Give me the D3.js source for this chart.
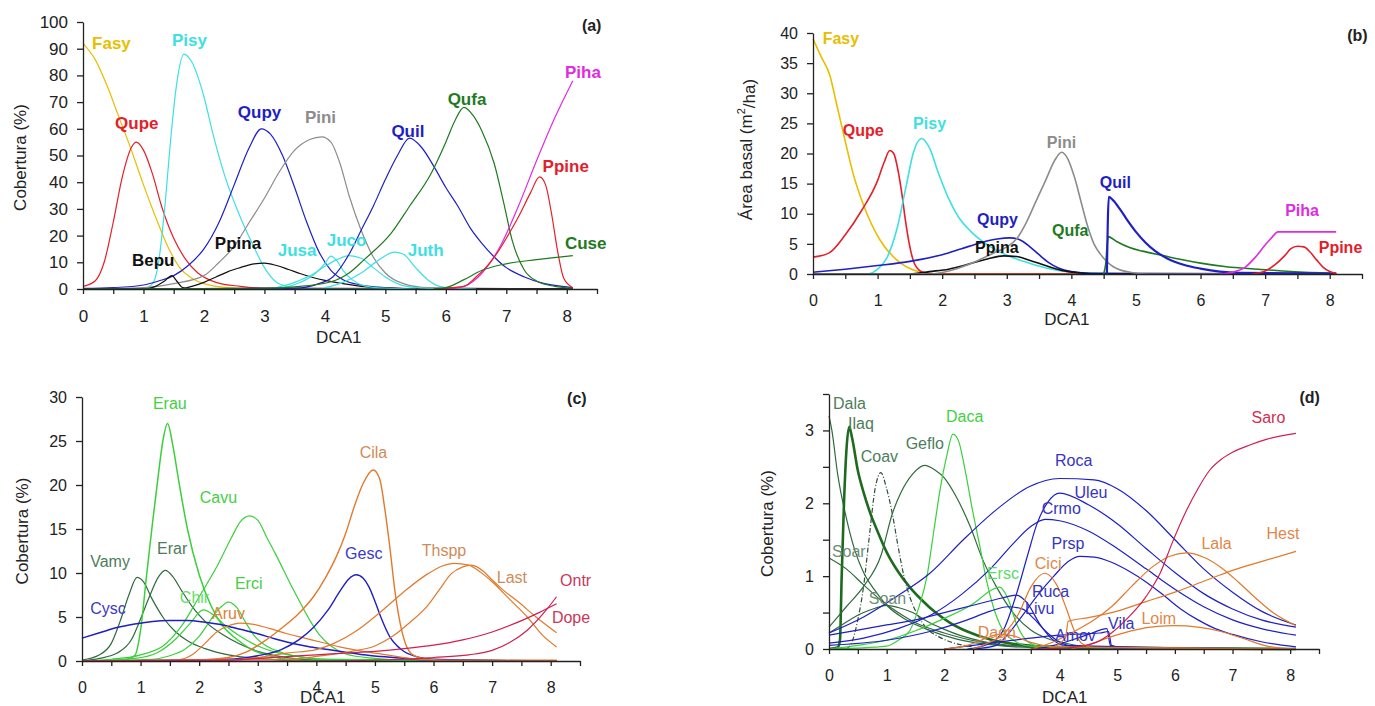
<!DOCTYPE html>
<html lang="en">
<head>
<meta charset="UTF-8">
<title>DCA1 response curves</title>
<script src="https://d3js.org/d3.v7.min.js"></script>
<style>
    body { margin: 0; background: #fff; }
    svg { display: block; font-family: "Liberation Sans", Arial, sans-serif; }
    .axis path, .axis line { stroke: #222; stroke-width: 1.3px; }
    .axis text { fill: #222; }
    .curve { fill: none; }
</style>
</head>
<body>
<div id="chart"></div>
<script>
// ---------- panel (a): cobertura of tree species ----------
var a_fasy  = [[0,92],[0.2,86],[0.4,76],[0.6,64],[0.8,52],[1.0,39],[1.2,27],[1.4,16],[1.6,8],[1.8,4],[2.0,2],[2.4,0.5],[3,0],[8.1,0]];
var a_qupe  = [[0,1],[0.2,3],[0.35,10],[0.5,25],[0.65,42],[0.8,53],[0.88,55],[1.0,52],[1.15,43],[1.3,31],[1.5,19],[1.7,11],[1.9,6],[2.2,2.5],[2.6,1],[3,0.3],[8.1,0]];
var a_pisy  = [[0,0],[1.0,0],[1.15,2],[1.25,10],[1.35,30],[1.45,56],[1.55,77],[1.67,88],[1.8,85],[2.0,72],[2.15,58],[2.35,42],[2.6,27],[2.8,17],[3.0,8],[3.2,2.5],[3.4,0.8],[3.6,0.2],[8.1,0]];
var a_qupy  = [[0,0.2],[0.5,0.5],[1,1.5],[1.25,3],[1.5,5],[1.75,9],[2.0,15],[2.25,25],[2.5,39],[2.75,53],[2.95,60],[3.1,58],[3.3,50],[3.5,38],[3.7,25],[3.9,14],[4.1,7],[4.3,3.5],[4.6,1.5],[5,0.5],[5.5,0.1],[8.1,0]];
var a_pini  = [[0,0],[1,0.5],[1.5,2],[2,5],[2.25,10],[2.5,16],[2.75,25],[3,34],[3.25,44],[3.5,52],[3.75,56],[3.95,57],[4.1,55],[4.25,47],[4.4,35],[4.6,22],[4.8,12],[5.0,6],[5.3,2],[5.7,0.5],[8.1,0]];
var a_bepu  = [[0,0],[1.0,0],[1.2,1],[1.35,3],[1.47,5],[1.55,3],[1.65,0.5],[1.8,0],[8.1,0]];
var a_ppina = [[0,0],[1.6,0],[1.8,1],[2.0,2.5],[2.2,4.5],[2.4,6.5],[2.6,8],[2.8,9.3],[3.0,9.7],[3.2,8.8],[3.4,7.3],[3.6,5.7],[3.8,4.3],[4.0,3.2],[4.3,2],[4.6,1],[5,0.4],[5.5,0],[8.1,0]];
var a_jusa  = [[3.0,0],[3.3,0.5],[3.6,2.5],[3.85,6],[4.0,9.5],[4.1,12.3],[4.2,10.5],[4.3,7],[4.45,3.5],[4.65,1.2],[5.0,0.3],[5.5,0]];
var a_juco  = [[3.2,0.5],[3.5,2.5],[3.8,5.5],[4.0,8.5],[4.2,11],[4.4,12.5],[4.6,11.5],[4.8,8],[5.0,4.5],[5.2,2],[5.5,0.5],[6,0]];
var a_juth  = [[4.0,0.5],[4.3,2.5],[4.6,6],[4.9,11],[5.15,13.8],[5.3,13],[5.5,8],[5.7,3.5],[5.9,1],[6.2,0.2],[6.5,0]];
var a_quil  = [[0,0],[3.5,0.3],[3.9,2],[4.13,4.5],[4.4,13],[4.6,22],[4.8,31],[5.0,41],[5.2,50],[5.4,56.5],[5.6,53],[5.8,46],[6.0,38],[6.2,31],[6.4,23],[6.6,17],[6.8,12],[7.0,8],[7.3,4.5],[7.6,2.2],[8.0,0.8],[8.1,0.5]];
var a_qufa  = [[0,0],[3,0.3],[3.5,0.8],[4.1,2.7],[4.4,6],[4.65,11],[5.1,21],[5.4,31],[5.75,43],[6.0,55],[6.15,63],[6.3,68],[6.45,65],[6.6,59],[6.8,47],[6.95,33],[7.1,18],[7.3,7],[7.5,3],[7.8,1],[8.1,0.3]];
var a_piha  = [[6.0,0],[6.3,1],[6.6,6],[6.9,16],[7.2,31],[7.5,48],[7.8,64],[8.1,78]];
var a_ppine = [[5.8,0],[6.1,0.5],[6.3,1],[6.5,4.5],[6.7,9],[6.85,13.5],[7.0,19],[7.2,27],[7.4,36],[7.55,42],[7.65,39],[7.75,28],[7.85,14],[7.95,4],[8.1,0.5]];
var a_cuse  = [[5.8,0],[6.0,0.5],[6.3,3.5],[6.6,7],[6.9,9],[7.5,11],[8.1,12.5]];

// ---------- panel (b): area basal ----------
var b_fasy  = [[0,39],[0.13,36],[0.26,33],[0.37,28],[0.5,22],[0.62,16.7],[0.78,11.5],[1.04,5.6],[1.3,2.3],[1.6,0.5],[1.9,0],[8.1,0]];
var b_qupe  = [[0,2.8],[0.25,3.5],[0.5,6.5],[0.75,10.5],[1.0,15.5],[1.1,18.5],[1.19,20.5],[1.25,20],[1.32,17],[1.38,13],[1.43,9],[1.5,4.5],[1.58,1.5],[1.7,0.3],[1.9,0],[8.1,0]];
var b_pisy  = [[0,0],[0.85,0],[1.0,0.8],[1.15,2.8],[1.3,7.5],[1.45,15],[1.55,20],[1.68,22.5],[1.8,21],[1.95,16.5],[2.1,12.5],[2.25,9.5],[2.45,7],[2.75,4.5],[3.05,2.9],[3.35,1.8],[3.7,0.8],[4.0,0.3],[5.0,0],[8.1,0]];
var b_qupy  = [[0,0.3],[0.5,0.8],[1.0,1.4],[1.5,2.1],[2.0,3.2],[2.3,4.2],[2.6,5.2],[2.85,5.8],[3.05,6],[3.2,5.7],[3.35,4.6],[3.5,3.2],[3.65,1.9],[3.8,1],[4.0,0.4],[4.3,0.1],[8.1,0]];
var b_ppina = [[0,0],[1.5,0],[1.8,0.4],[2.1,0.8],[2.4,1.6],[2.7,2.5],[2.95,3],[3.15,2.9],[3.35,2.3],[3.6,1.4],[3.85,0.6],[4.1,0.2],[4.4,0],[8.1,0]];
var b_pini  = [[0,0],[1.8,0],[2.2,0.8],[2.5,2],[2.8,3.5],[3.0,4.5],[3.15,5.8],[3.3,8.5],[3.45,12],[3.6,15.5],[3.75,19],[3.85,20.2],[3.95,19],[4.05,16],[4.15,12],[4.25,8],[4.35,5],[4.45,3.3],[4.65,1.2],[4.95,0.2],[5.2,0],[8.1,0]];
var b_qufa  = [[4.5,0],[4.53,1.5],[4.57,6.2],[4.7,5.4],[4.9,4.4],[5.1,3.8],[5.4,3.1],[5.7,2.4],[6.0,1.8],[6.4,1.2],[6.9,0.8],[7.4,0.4],[8.1,0.1]];
var b_quil  = [[4.55,0],[4.58,12.8],[4.65,12.2],[4.75,10.8],[4.85,9.2],[5.0,7],[5.15,5.2],[5.3,3.8],[5.5,2.5],[5.75,1.5],[6.0,0.9],[6.3,0.4],[6.6,0.2],[8.1,0.05]];
var b_piha  = [[6.3,0],[6.5,0.3],[6.7,1.2],[6.85,2.8],[7.0,4.8],[7.1,6],[7.2,7],[8.1,7]];
var b_ppine = [[6.8,0],[7.0,0.5],[7.15,1.5],[7.3,3],[7.4,4.2],[7.5,4.6],[7.6,4.5],[7.7,3.6],[7.8,2.3],[7.9,1.1],[8.0,0.4],[8.1,0.1]];

// ---------- panel (c): cobertura of shrubs ----------
var c_vamy  = [[0,0.1],[0.3,0.7],[0.5,2],[0.65,4.5],[0.8,7.5],[0.94,9.5],[1.05,9],[1.2,7],[1.4,4.8],[1.6,3.3],[1.8,2.3],[2.1,1.4],[2.5,0.7],[3,0.3],[3.5,0.1],[8.1,0]];
var c_erar  = [[0,0],[0.3,0.3],[0.6,0.9],[0.85,2.5],[1.0,4.8],[1.15,7.3],[1.3,9.5],[1.42,10.3],[1.55,9.6],[1.7,8],[1.9,6],[2.1,4.5],[2.4,3],[2.7,1.9],[3.0,1.1],[3.4,0.5],[4,0.1],[8.1,0]];
var c_erau  = [[0,0],[0.7,0.1],[0.9,0.6],[1.0,3.5],[1.1,9.6],[1.2,15.5],[1.3,21],[1.38,25],[1.46,27],[1.55,24.5],[1.65,20.5],[1.8,15],[2.0,9.8],[2.2,6.3],[2.4,4],[2.6,2.7],[2.9,1.3],[3.2,0.6],[3.5,0.2],[4,0],[8.1,0]];
var c_cavu  = [[0,0],[0.5,0.2],[1.0,0.7],[1.4,1.8],[1.7,4],[2.0,7.3],[2.3,10.7],[2.55,14],[2.7,15.8],[2.86,16.5],[3.0,16],[3.15,14.1],[3.3,12.2],[3.45,10.2],[3.6,8.2],[3.75,6.3],[3.9,4.5],[4.05,3],[4.25,1.7],[4.5,0.8],[5,0.3],[5.5,0.1],[8.1,0]];
var c_erci  = [[0,0],[1.2,0.2],[1.5,0.6],[1.75,1.3],[2.0,2.8],[2.2,4.7],[2.35,6],[2.5,6.7],[2.65,6],[2.8,4.3],[2.95,2.8],[3.15,1.7],[3.4,1],[3.7,0.5],[4.1,0.2],[8.1,0]];
var c_chir  = [[0,0],[0.9,0.3],[1.3,1],[1.6,2.5],[1.85,4.3],[2.07,5.8],[2.25,5.2],[2.45,4],[2.7,2.8],[3.0,1.7],[3.3,1],[3.7,0.5],[4.2,0.2],[8.1,0]];
var c_cysc  = [[0,2.6],[0.3,3.2],[0.6,3.8],[0.9,4.2],[1.2,4.5],[1.5,4.6],[1.8,4.6],[2.1,4.4],[2.4,4.1],[2.7,3.6],[3.0,3.1],[3.3,2.5],[3.6,2],[3.9,1.6],[4.2,1.3],[4.5,1],[4.8,0.7],[5.1,0.5],[5.5,0.3],[6,0.1],[8.1,0]];
var c_aruv  = [[0,0],[1.6,0.1],[1.9,0.8],[2.1,2],[2.3,3.3],[2.5,4],[2.7,4.3],[2.9,4.2],[3.2,3.7],[3.5,3.1],[3.8,2.6],[4.1,2.1],[4.4,1.6],[4.8,1.1],[5.2,0.7],[5.6,0.3],[6,0.1],[8.1,0]];
var c_gesc  = [[0,0],[2.5,0.2],[3.0,0.6],[3.4,1.3],[3.7,2.4],[3.95,3.8],[4.2,5.8],[4.4,7.9],[4.55,9.3],[4.68,9.8],[4.8,9.4],[4.9,8.4],[5.0,6.8],[5.1,5],[5.25,2.8],[5.45,1.3],[5.7,0.5],[6,0.2],[8.1,0]];
var c_cila  = [[0,0],[2.0,0.1],[2.5,0.4],[2.8,1],[3.1,2.2],[3.4,3.7],[3.7,5.4],[3.95,7.3],[4.15,9.4],[4.35,12],[4.5,14.5],[4.65,17.6],[4.8,20.2],[4.97,21.7],[5.08,20.7],[5.17,17.2],[5.26,12.6],[5.34,8],[5.43,4.3],[5.52,2],[5.65,0.7],[5.9,0.2],[6.2,0.1],[8.1,0.1]];
var c_thspp = [[0,0],[2.5,0.1],[3.0,0.4],[3.5,0.9],[4.0,1.3],[4.3,2],[4.7,3.5],[5.1,5.6],[5.5,7.9],[5.9,9.9],[6.15,10.8],[6.35,11.1],[6.6,10.9],[6.8,10.1],[7.0,9],[7.3,7],[7.6,5],[7.85,3],[8.1,1.6]];
var c_last  = [[0,0],[3.5,0.2],[4.2,0.7],[4.6,1.1],[5.0,1.7],[5.3,2.8],[5.6,4.4],[5.9,6.3],[6.1,8.1],[6.3,9.9],[6.5,10.7],[6.65,10.9],[6.85,10.2],[7.0,9.2],[7.2,8],[7.45,6.7],[7.75,5],[8.1,3.2]];
var c_dope  = [[0,0],[2.5,0.1],[3.0,0.3],[3.5,0.5],[4.0,0.7],[4.5,0.9],[5.0,1.1],[5.5,1.4],[6.0,1.8],[6.5,2.4],[7.0,3.3],[7.4,4.3],[7.8,5.5],[8.1,6.5]];
var c_ontr  = [[0,0],[4,0],[5.5,0.2],[6.0,0.4],[6.6,0.7],[7.0,1.2],[7.3,2.1],[7.6,3.5],[7.9,5.6],[8.1,7.3]];

// ---------- panel (d): cobertura of herbs ----------
var d_dala  = [[0,3.2],[0.05,3.0],[0.15,2.4],[0.3,1.8],[0.45,1.35],[0.6,1.05],[0.8,0.8],[1.0,0.6],[1.3,0.42],[1.7,0.27],[2.2,0.14],[2.8,0.06],[3.5,0.02],[8.1,0]];
var d_ilaq  = [[0,0],[0.15,0.02],[0.19,0.12],[0.22,1],[0.26,2],[0.3,2.7],[0.35,3.05],[0.4,2.9],[0.5,2.45],[0.6,2.15],[0.7,1.9],[0.85,1.6],[1.0,1.33],[1.2,1.06],[1.4,0.85],[1.6,0.68],[1.85,0.5],[2.1,0.36],[2.4,0.24],[2.8,0.13],[3.3,0.06],[4,0.02],[8.1,0]];
var d_coav  = [[0.3,0],[0.4,0.1],[0.5,0.4],[0.6,0.86],[0.7,1.55],[0.8,2.2],[0.9,2.42],[1.0,2.2],[1.1,1.85],[1.2,1.4],[1.3,1.0],[1.4,0.72],[1.55,0.45],[1.7,0.28],[1.9,0.17],[2.1,0.1],[2.5,0.03]];
var d_geflo = [[0,0.3],[0.3,0.58],[0.6,0.86],[0.9,1.28],[1.1,1.86],[1.25,2.15],[1.45,2.4],[1.66,2.52],[1.85,2.45],[2.0,2.35],[2.2,2.1],[2.45,1.68],[2.67,1.22],[2.9,0.86],[3.2,0.49],[3.5,0.26],[3.8,0.14],[4.1,0.08],[4.5,0.03],[8.1,0]];
var d_soar  = [[0,1.25],[0.3,1.1],[0.6,0.88],[0.9,0.67],[1.2,0.5],[1.5,0.36],[2.0,0.22],[2.6,0.1],[3.2,0.04],[8.1,0]];
var d_soan  = [[0,0.22],[0.2,0.32],[0.4,0.42],[0.6,0.5],[0.8,0.56],[1.0,0.6],[1.2,0.57],[1.45,0.5],[1.7,0.38],[2.0,0.27],[2.3,0.18],[2.7,0.1],[3.2,0.05],[8.1,0]];
var d_daca  = [[0,0],[1.0,0.04],[1.2,0.12],[1.4,0.25],[1.55,0.55],[1.7,1.0],[1.82,1.63],[1.93,2.2],[2.04,2.64],[2.15,2.95],[2.25,2.85],[2.35,2.5],[2.5,1.86],[2.62,1.4],[2.73,0.95],[2.85,0.58],[3.0,0.28],[3.2,0.12],[3.5,0.04],[8.1,0]];
var d_ersc  = [[0,0],[0.5,0.05],[1.0,0.12],[1.5,0.25],[2.0,0.42],[2.5,0.62],[2.8,0.8],[2.96,0.85],[3.1,0.7],[3.25,0.35],[3.45,0.1],[3.7,0.03],[8.1,0]];
var d_roca  = [[0,0.22],[0.6,0.44],[1.17,0.72],[1.75,1.04],[2.33,1.5],[2.9,1.91],[3.48,2.23],[4.0,2.34],[4.6,2.32],[5.0,2.2],[5.5,1.9],[6.0,1.5],[6.5,1.1],[7.0,0.78],[7.5,0.52],[8.1,0.33]];
var d_uleu  = [[2.4,0],[2.8,0.08],[3.05,0.3],[3.25,0.75],[3.45,1.3],[3.6,1.7],[3.8,2.02],[4.0,2.14],[4.5,1.98],[5.0,1.72],[5.5,1.38],[6.0,1.05],[6.5,0.76],[7.0,0.55],[7.5,0.4],[8.1,0.3]];
var d_crmo  = [[0,0.08],[0.6,0.15],[1.2,0.28],[1.8,0.48],[2.3,0.75],[2.8,1.1],[3.2,1.45],[3.5,1.68],[3.75,1.78],[4.0,1.76],[4.5,1.62],[5.0,1.38],[5.5,1.1],[6.0,0.82],[6.5,0.58],[7.0,0.4],[7.5,0.28],[8.1,0.19]];
var d_prsp  = [[2.5,0],[2.9,0.05],[3.1,0.2],[3.3,0.4],[3.6,0.72],[3.9,1.0],[4.15,1.2],[4.35,1.27],[4.6,1.26],[4.9,1.19],[5.2,1.07],[5.5,0.92],[5.8,0.74],[6.1,0.55],[6.4,0.4],[6.7,0.28],[7.0,0.2],[7.5,0.1],[8.1,0.03]];
var d_ruca  = [[0,0.19],[0.5,0.26],[1.0,0.33],[1.5,0.4],[2.0,0.5],[2.5,0.6],[3.0,0.7],[3.25,0.74],[3.45,0.62],[3.65,0.35],[3.85,0.15],[4.1,0.05],[8.1,0]];
var d_livu  = [[0,0.05],[1.0,0.12],[1.8,0.25],[2.4,0.4],[2.8,0.52],[3.1,0.58],[3.35,0.55],[3.55,0.42],[3.75,0.25],[3.95,0.12],[4.3,0.03],[8.1,0]];
var d_amov  = [[2.0,0],[2.5,0.05],[3.0,0.1],[3.5,0.15],[4.0,0.19],[4.5,0.21],[4.7,0.22],[4.85,0.24],[4.9,0.05],[5.2,0],[8.1,0]];
var d_vila  = [[3.6,0],[3.9,0.05],[4.2,0.12],[4.5,0.2],[4.7,0.26],[4.82,0.28],[4.88,0.05],[5.0,0],[8.1,0]];
var d_cici  = [[2.5,0],[2.75,0.08],[3.05,0.22],[3.3,0.5],[3.5,0.85],[3.74,1.04],[3.95,0.88],[4.12,0.55],[4.25,0.26],[4.38,0.08],[4.6,0.02],[8.1,0]];
var d_dagn  = [[2.0,0],[2.4,0.05],[2.7,0.14],[2.95,0.2],[3.2,0.18],[3.5,0.09],[3.9,0.03],[8.1,0]];
var d_lala  = [[3.5,0],[3.9,0.1],[4.3,0.26],[4.6,0.4],[4.9,0.58],[5.25,0.86],[5.6,1.12],[5.9,1.27],[6.2,1.32],[6.5,1.26],[6.8,1.12],[7.1,0.92],[7.4,0.7],[7.7,0.5],[8.1,0.32]];
var d_hest  = [[3.8,0],[4.1,0.15],[4.15,0.38],[4.5,0.43],[5.0,0.52],[5.5,0.65],[6.0,0.78],[6.5,0.93],[7.0,1.08],[7.5,1.2],[8.1,1.34]];
var d_loim  = [[4.2,0],[4.5,0.06],[4.9,0.17],[5.3,0.26],[5.7,0.31],[6.0,0.32],[6.4,0.3],[6.8,0.24],[7.2,0.14],[7.6,0.04],[8.1,0]];
var d_saro  = [[3.5,0],[4.2,0.02],[4.6,0.08],[4.9,0.22],[5.15,0.4],[5.5,0.72],[5.75,1.05],[5.95,1.45],[6.2,1.9],[6.4,2.2],[6.6,2.45],[6.8,2.6],[7.0,2.7],[7.3,2.8],[7.6,2.88],[8.1,2.96]];

// colours
var GOLD = "#E8BE00", RED = "#E3202A", CYAN = "#3EE0E2", BLUE = "#1F1FC4", GREY = "#8C8C8C",
    DKGREEN = "#1F7A1F", MAGENTA = "#E02BE0", BLACK = "#111111",
    LTGREEN = "#3CCF3C", SHGREEN = "#2F6B3F", ORANGE = "#E07A2C", CRIMSON = "#CF2050";

var panels = [
    {
        left: 83, right: 597, top: 22, bottom: 289, ymax: 100,
        yticks: d3.range(0, 101, 10), yfmt: function(d) { return d; },
        fontSize: 17, lw: 1.2, bold: true, titleAt: 4.23, titleDy: 54,
        ytitle: "Cobertura (%)", ytitleX: 20,
        letter: ["(a)", 8.25, 96.6],
        series: [
            [a_fasy, GOLD], [a_qupe, RED], [a_pisy, CYAN], [a_qupy, BLUE], [a_pini, GREY],
            [a_bepu, BLACK], [a_ppina, BLACK], [a_jusa, CYAN], [a_juco, CYAN], [a_juth, CYAN],
            [a_quil, BLUE], [a_qufa, DKGREEN], [a_piha, MAGENTA], [a_ppine, RED], [a_cuse, DKGREEN]
        ],
        labels: [
            ["Fasy", 0.15, 90, GOLD], ["Pisy", 1.47, 91, CYAN], ["Qupe", 0.53, 60, RED],
            ["Qupy", 2.56, 64, BLUE], ["Pini", 3.67, 62, GREY], ["Quil", 5.1, 57, BLUE],
            ["Qufa", 6.03, 69, DKGREEN], ["Piha", 7.97, 79, MAGENTA], ["Ppine", 7.6, 44, RED],
            ["Cuse", 7.97, 15, DKGREEN], ["Bepu", 0.81, 8.6, BLACK], ["Ppina", 2.18, 15, BLACK],
            ["Jusa", 3.22, 12.4, CYAN], ["Juco", 4.03, 16, CYAN], ["Juth", 5.37, 12.4, CYAN]
        ]
    },
    {
        left: 813, right: 1362, top: 33, bottom: 274, ymax: 40,
        yticks: d3.range(0, 41, 5), yfmt: function(d) { return d; },
        fontSize: 16, lw: 1.6, bold: true, titleAt: 3.93, titleDy: 51,
        ytitle: "basal", ytitleX: 746,
        letter: ["(b)", 8.27, 38.7],
        series: [
            [b_fasy, GOLD], [b_qupe, RED], [b_pisy, CYAN], [b_qupy, BLUE], [b_ppina, BLACK],
            [b_pini, GREY], [b_qufa, DKGREEN], [b_quil, BLUE, 2.2], [b_piha, MAGENTA], [b_ppine, RED]
        ],
        labels: [
            ["Fasy", 0.15, 38.2, GOLD], ["Qupe", 0.46, 22.9, RED], ["Pisy", 1.55, 24.1, CYAN],
            ["Pini", 3.62, 20.9, GREY], ["Qupy", 2.54, 8.1, BLUE], ["Ppina", 2.51, 3.5, BLACK],
            ["Qufa", 3.7, 6.3, DKGREEN], ["Quil", 4.44, 14.3, BLUE], ["Piha", 7.31, 9.6, MAGENTA],
            ["Ppine", 7.83, 3.5, RED]
        ]
    },
    {
        left: 82, right: 580, top: 397, bottom: 661, ymax: 30,
        yticks: d3.range(0, 31, 5), yfmt: function(d) { return d; },
        fontSize: 16, lw: 1.2, bold: false, titleAt: 4.11, titleDy: 42,
        ytitle: "Cobertura (%)", ytitleX: 22,
        letter: ["(c)", 8.28, 29.2],
        series: [
            [c_vamy, SHGREEN], [c_erar, SHGREEN], [c_erau, LTGREEN, 1.5], [c_cavu, LTGREEN], [c_erci, LTGREEN],
            [c_chir, LTGREEN], [c_cysc, BLUE, 1.5], [c_aruv, ORANGE], [c_gesc, BLUE, 1.4], [c_cila, ORANGE, 1.4],
            [c_thspp, ORANGE], [c_last, ORANGE], [c_dope, CRIMSON], [c_ontr, CRIMSON]
        ],
        labels: [
            ["Erau", 1.21, 28.6, "#44D044"], ["Cavu", 2.01, 18, "#44D044"], ["Vamy", 0.14, 10.7, "#4D7D5A"],
            ["Erar", 1.28, 12.2, "#4D7D5A"], ["Erci", 2.61, 8.2, "#44D044"], ["Chir", 1.67, 6.6, "#66DD66"],
            ["Aruv", 2.22, 4.8, "#E0803A"], ["Cysc", 0.14, 5.3, "#3A3AC8"], ["Cila", 4.74, 23.1, "#D08A5A"],
            ["Gesc", 4.49, 11.6, "#3A3AC8"], ["Thspp", 5.8, 11.9, "#D08A5A"], ["Last", 7.08, 8.9, "#D08A5A"],
            ["Ontr", 8.16, 8.5, "#C8385A"], ["Dope", 8.02, 4.3, "#C8385A"]
        ]
    },
    {
        left: 829, right: 1319, top: 394, bottom: 649, ymax: 3.5,
        yticks: d3.range(0, 3.51, 0.5), yfmt: function(d) { return d % 1 === 0 ? d : ""; },
        fontSize: 16, lw: 1.2, bold: false, titleAt: 4.09, titleDy: 54,
        ytitle: "Cobertura (%)", ytitleX: 767,
        letter: ["(d)", 8.16, 3.37],
        series: [
            [d_dala, SHGREEN], [d_ilaq, "#1E6A1E", 2.6], [d_coav, "#2E4F3A", 1.2, "5,2,1,2"], [d_geflo, SHGREEN],
            [d_soar, SHGREEN], [d_soan, SHGREEN], [d_daca, LTGREEN], [d_ersc, LTGREEN],
            [d_roca, BLUE], [d_uleu, BLUE], [d_crmo, BLUE], [d_prsp, BLUE], [d_ruca, BLUE], [d_livu, BLUE],
            [d_amov, BLUE], [d_vila, BLUE], [d_cici, ORANGE], [d_dagn, ORANGE], [d_lala, ORANGE],
            [d_hest, ORANGE], [d_loim, ORANGE], [d_saro, CRIMSON]
        ],
        labels: [
            ["Dala", 0.07, 3.3, "#4D7D5A"], ["Ilaq", 0.33, 3.02, "#4D7D5A"], ["Coav", 0.55, 2.57, "#4D7D5A"],
            ["Geflo", 1.33, 2.75, "#4D7D5A"], ["Daca", 2.03, 3.12, "#44D044"], ["Soar", 0.05, 1.26, "#6D8D77"],
            ["Soan", 0.69, 0.62, "#6D8D77"], ["Ersc", 2.74, 0.96, "#5ADA6A"], ["Cici", 3.57, 1.1, "#E0884A"],
            ["Ruca", 3.52, 0.71, "#3535C0"], ["Livu", 3.4, 0.48, "#3535C0"], ["Dagn", 2.58, 0.15, "#E0884A"],
            ["Roca", 3.92, 2.51, "#3535C0"], ["Crmo", 3.69, 1.85, "#3535C0"], ["Uleu", 4.26, 2.07, "#3535C0"],
            ["Prsp", 3.86, 1.37, "#3535C0"], ["Amov", 3.92, 0.11, "#3535C0"], ["Vila", 4.84, 0.27, "#3535C0"],
            ["Loim", 5.42, 0.34, "#E0884A"], ["Lala", 6.46, 1.37, "#E0884A"], ["Hest", 7.59, 1.51, "#E0884A"],
            ["Saro", 7.33, 3.1, "#D0304F"]
        ]
    }
];

var svg = d3.select("#chart").append("svg")
    .attr("width", 1375)
    .attr("height", 706);

svg.append("rect").attr("width", 1375).attr("height", 706).attr("fill", "#fff");

function drawPanel(p) {
    var x = d3.scaleLinear().domain([0, 8.5]).range([p.left, p.right]);
    var y = d3.scaleLinear().domain([0, p.ymax]).range([p.bottom, p.top]);
    var g = svg.append("g");

    var line = d3.line()
        .x(function(d) { return x(d[0]); })
        .y(function(d) { return y(d[1]); })
        .curve(d3.curveMonotoneX);

    // curves
    p.series.forEach(function(s) {
        g.append("path")
            .attr("class", "curve")
            .attr("d", line(s[0]))
            .attr("stroke", s[1])
            .attr("stroke-width", s[2] || p.lw)
            .attr("stroke-dasharray", s[3] || null);
    });

    // x axis, ticks every 0.5, labels on integers
    var xa = g.append("g")
        .attr("class", "axis")
        .attr("transform", "translate(0," + p.bottom + ")")
        .call(d3.axisBottom(x)
            .tickValues(d3.range(0, 8.51, 0.5))
            .tickFormat(function(d) { return d % 1 === 0 ? d : ""; })
            .tickSize(5).tickSizeOuter(0).tickPadding(16));
    xa.selectAll("text").style("font-size", p.fontSize + "px");

    // y axis
    var ya = g.append("g")
        .attr("class", "axis")
        .attr("transform", "translate(" + p.left + ",0)")
        .call(d3.axisLeft(y)
            .tickValues(p.yticks)
            .tickFormat(p.yfmt)
            .tickSize(6).tickSizeOuter(0).tickPadding(9));
    ya.selectAll("text").style("font-size", p.fontSize + "px");

    // x axis title
    g.append("text")
        .attr("x", x(p.titleAt))
        .attr("y", p.bottom + p.titleDy)
        .attr("text-anchor", "middle")
        .style("font-size", "17px")
        .attr("fill", "#222")
        .text("DCA1");

    // y axis title
    var yt = g.append("text")
        .attr("transform", "translate(" + p.ytitleX + "," + ((p.top + p.bottom) / 2 + (p.ytitle === "basal" ? -4 : 2)) + ") rotate(-90)")
        .attr("text-anchor", "middle")
        .attr("dominant-baseline", "central")
        .style("font-size", "17px")
        .attr("fill", "#222");
    if (p.ytitle === "basal") {
        yt.append("tspan").text("Área basal (m");
        yt.append("tspan").attr("dy", "-0.45em").style("font-size", "11px").text("2");
        yt.append("tspan").attr("dy", "0.45em").text("/ha)");
    } else {
        yt.text(p.ytitle);
    }

    // species labels
    p.labels.forEach(function(l) {
        g.append("text")
            .attr("x", x(l[1]))
            .attr("y", y(l[2]))
            .attr("fill", l[3])
            .style("font-size", (p.bold ? p.fontSize : 16) + "px")
            .style("font-weight", p.bold ? "bold" : "normal")
            .text(l[0]);
    });

    // panel letter
    g.append("text")
        .attr("x", x(p.letter[1]))
        .attr("y", y(p.letter[2]))
        .style("font-size", "16px")
        .style("font-weight", "bold")
        .attr("fill", "#222")
        .text(p.letter[0]);
}

panels.forEach(drawPanel);
</script>
</body>
</html>
